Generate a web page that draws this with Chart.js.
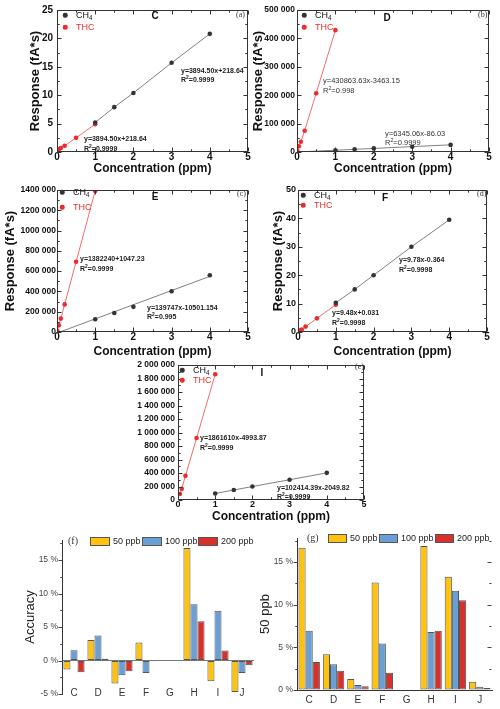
<!DOCTYPE html>
<html><head><meta charset="utf-8">
<script src="https://cdn.jsdelivr.net/npm/chart.js@4.4.0/dist/chart.umd.min.js"></script>
<style>
body{margin:0;background:#fff;}
#wrap{position:relative;width:500px;height:709px;overflow:hidden;font-family:'Liberation Sans',Arial,sans-serif;color:#111;}
canvas{position:absolute;left:0;top:0;}
.n{position:absolute;white-space:nowrap;line-height:1;transform:translateY(-50%);}
.c{transform:translate(-50%,-50%);}
.lg{font-size:9px;}
.pl{font-size:10px;font-weight:bold;}
.pn{font-family:'Liberation Serif',serif;font-size:8px;color:#333;}
.eq{font-size:7px;font-weight:bold;color:#222;}
.eqn{font-size:7.5px;color:#333;}
.red{color:#e8302c;}
.bl{font-size:9px;color:#222;}
.bp{font-family:'Liberation Serif',serif;font-size:10px;color:#333;}
sub{font-size:70%;vertical-align:-2px;line-height:0;}
sup{font-size:70%;vertical-align:3px;line-height:0;}
.dot{position:absolute;width:4.5px;height:4.5px;border-radius:50%;transform:translate(-50%,-50%);}
.box{position:absolute;border:1px solid #555;box-sizing:border-box;}
</style></head>
<body><div id="wrap">
<canvas id="cC" width="500" height="709"></canvas>
<canvas id="cD" width="500" height="709"></canvas>
<canvas id="cE" width="500" height="709"></canvas>
<canvas id="cF" width="500" height="709"></canvas>
<canvas id="cI" width="500" height="709"></canvas>
<canvas id="cf" width="500" height="709"></canvas>
<canvas id="cg" width="500" height="709"></canvas>
</div>
<script>
// ---------- DATA ----------
const concTicks = [0, 1, 2, 3, 4, 5];
// Panel C
const cCH4x = [1, 1.5, 2, 3, 4];
const cCH4y = [5.2, 7.9, 10.4, 15.7, 20.8];
const cTHCx = [0.01, 0.05, 0.1, 0.2, 0.5, 1];
const cTHCy = [0.3, 0.47, 0.7, 1.1, 2.5, 4.9];
// Panel D
const dCH4x = [1, 1.5, 2, 3, 4];
const dCH4y = [6300, 9400, 12600, 18500, 25000];
const dCH4fit = [6345.06, -86.03];
const dTHCx = [0.01, 0.05, 0.1, 0.2, 0.5, 1];
const dTHCy = [3000, 20000, 36000, 75000, 207000, 429000];
// Panel E
const eCH4x = [1, 1.5, 2, 3, 4];
const eCH4y = [125000, 188000, 248000, 402000, 560000];
const eCH4fit = [139747, -10501.154];
const eTHCx = [0.01, 0.05, 0.1, 0.2, 0.5, 1];
const eTHCy = [10000, 66000, 132000, 272000, 692000, 1390000];
// Panel F
const fCH4x = [1, 1.5, 2, 3, 4];
const fCH4y = [10.3, 15.0, 20.0, 30.0, 39.5];
const fTHCx = [0.01, 0.05, 0.1, 0.2, 0.5, 1];
const fTHCy = [0.2, 0.6, 0.9, 1.9, 4.8, 9.6];
// Panel I
const iCH4x = [1, 1.5, 2, 3, 4];
const iCH4y = [97000, 148000, 200000, 300000, 402000];
const iTHCx = [0.05, 0.1, 0.2, 0.5, 1];
const iTHCy = [88000, 165000, 358000, 918000, 1862000];
// Bar panels
const categories = ['C', 'D', 'E', 'F', 'G', 'H', 'I', 'J'];
const acc50  = [-1.35, 3.05, -3.45, 2.7, 0, 16.8, -3.1, -4.7];
const acc100 = [1.55, 3.75, -2.2, -1.85, 0, 8.4, 7.45, -1.85];
const acc200 = [-1.75, 0.25, -1.6, -0.1, 0, 5.85, 1.5, -0.7];
const rsd50  = [16.65, 4.2, 1.28, 12.6, 0, 16.85, 13.27, 0.97];
const rsd100 = [6.93, 3.03, 0.58, 5.45, 0, 6.8, 11.63, 0.39];
const rsd200 = [3.27, 2.26, 0.43, 2.02, 0, 6.93, 10.5, 0.23];
const seriesNames = ['50 ppb', '100 ppb', '200 ppb'];

// ---------- STYLE ----------
const FAM = "'Liberation Sans', Arial, sans-serif";
Chart.defaults.font.family = FAM;
Chart.defaults.color = '#111';
Chart.defaults.animation = false;
const GRAYPT = '#333', GRAYLN = '#808080', REDPT = '#ee2a2a', REDLN = '#f26b6b';
const YEL = '#FFC20E', BLU = '#6A9FD6', RED = '#D8302B';

const tkPlugin = {
  id: 'tk',
  afterDraw(chart, args, o) {
    if (!o || !o.on) return;
    const {ctx, chartArea: a} = chart;
    const xs = chart.scales.x, ys = chart.scales.y;
    ctx.save();
    ctx.strokeStyle = o.color || '#333'; ctx.lineWidth = 1;
    const seg = (x1, y1, x2, y2) => { ctx.beginPath(); ctx.moveTo(x1, y1); ctx.lineTo(x2, y2); ctx.stroke(); };
    const L = Math.round(a.left) + 0.5, R = Math.round(a.right) - 0.5, T = Math.round(a.top) + 0.5, B = Math.round(a.bottom) - 0.5;
    if (o.box) ctx.strokeRect(L, T, R - L, B - T);
    const run = (sc, spec, horiz) => {
      if (!spec) return;
      const n = Math.round((sc.max - sc.min) / spec.minor + 1e-9);
      for (let i = 0; i <= n; i++) {
        const v = sc.min + i * spec.minor;
        if (v > sc.max + 1e-9) break;
        const q = v / spec.major;
        const len = Math.abs(q - Math.round(q)) < 1e-6 ? o.len : o.len * 0.55;
        const p = Math.round(sc.getPixelForValue(v)) + 0.5;
        for (const s of spec.sides) {
          if (horiz) {
            if (s === 'bottom') seg(p, B, p, B - len);
            if (s === 'top') seg(p, T, p, T + len);
          } else {
            if (s === 'left') seg(L, p, L + len, p);
            if (s === 'leftOut') seg(L - len, p, L, p);
            if (s === 'right') seg(R, p, R - len, p);
          }
        }
      }
    };
    run(ys, o.y, false);
    run(xs, o.x, true);
    ctx.restore();
  }
};

const pts = (xs, ys) => xs.map((x, i) => ({x, y: ys[i]}));
const fitLine = (coef, x0, x1) => [x0, x1].map(x => ({x, y: coef[0] * x + coef[1]}));
const spaceK = v => v === 0 ? '0' : Math.floor(v / 1000) + ' 000';
const spaceAll = v => String(v).replace(/\B(?=(\d{3})+(?!\d))/g, ' ');

function scatterChart(id, p) {
  const yLh = 13 * 1.2, xLh = 12 * 1.2;
  const yW = p.yTitleX != null ? p.l - (p.yTitleX - yLh / 2) : 60;
  const xH = p.xTitleY + xLh / 2 - p.b;
  const datasets = [
    {data: pts(p.ch4x, p.ch4y), pointRadius: 2.3, pointBackgroundColor: GRAYPT, pointBorderWidth: 0, showLine: false},
    {data: pts(p.thcx, p.thcy), pointRadius: 2.3, pointBackgroundColor: REDPT, pointBorderWidth: 0, showLine: false},
    {data: p.ch4line || pts(p.ch4x, p.ch4y), pointRadius: 0, showLine: true, borderColor: GRAYLN, borderWidth: 1},
    {data: pts(p.thcx, p.thcy), pointRadius: 0, showLine: true, borderColor: REDLN, borderWidth: 1}
  ];
  new Chart(document.getElementById(id), {
    type: 'scatter',
    data: {datasets},
    plugins: [tkPlugin],
    options: {
      responsive: false, animation: false,
      layout: {padding: {left: p.l - yW, top: p.t, right: 500 - p.r, bottom: 709 - p.b - xH}},
      plugins: {legend: {display: false}, tooltip: {enabled: false},
        tk: {on: true, box: true, len: 4, color: '#333',
          y: {major: p.yStep, minor: p.yStep / 2, sides: ['left', 'right']},
          x: {major: 1, minor: 0.5, sides: ['bottom', 'top']}}},
      scales: {
        x: {type: 'linear', min: concTicks[0], max: concTicks[concTicks.length - 1],
          afterBuildTicks: s => { s.ticks = concTicks.map(v => ({value: v})); },
          ticks: {autoSkip: false, font: {size: p.xFont || 10, weight: 'bold'}, color: '#111', padding: -1},
          grid: {display: false, drawTicks: false}, border: {display: false},
          title: {display: true, text: 'Concentration (ppm)', font: {size: 12, weight: 'bold'}, color: '#111', padding: {top: 0, bottom: 0}},
          afterFit: s => { s.height = xH; }},
        y: {type: 'linear', min: 0, max: p.yMax,
          ticks: {autoSkip: false, stepSize: p.yStep, font: {size: p.yFont || 10, weight: 'bold'}, color: '#111', padding: p.yPad, callback: p.fmt || (v => v)},
          grid: {display: false, drawTicks: false}, border: {display: false},
          title: {display: p.yTitleX != null, text: 'Response (fA*s)', font: {size: 13, weight: 'bold'}, color: '#111', padding: {top: 0, bottom: 0}},
          afterFit: s => { s.width = yW; }}
      }
    }
  });
}

scatterChart('cC', {l: 57, t: 10, r: 248, b: 152, yMax: 25, yStep: 5, yTitleX: 35, xTitleY: 169, yPad: 4,
  ch4x: cCH4x, ch4y: cCH4y, thcx: cTHCx, thcy: cTHCy});
scatterChart('cD', {l: 297, t: 10, r: 489, b: 152, yMax: 500000, yStep: 100000, yTitleX: 258, xTitleY: 169, yPad: 2, yFont: 8.5, fmt: spaceK,
  ch4x: dCH4x, ch4y: dCH4y, thcx: dTHCx, thcy: dTHCy, ch4line: fitLine(dCH4fit, 0, 4)});
scatterChart('cE', {l: 57, t: 190, r: 248, b: 332, yMax: 1400000, yStep: 200000, yTitleX: 10, xTitleY: 352, yPad: 1, yFont: 8.5, fmt: spaceK,
  ch4x: eCH4x, ch4y: eCH4y, thcx: eTHCx, thcy: eTHCy, ch4line: fitLine(eCH4fit, 0.08, 4)});
scatterChart('cF', {l: 298, t: 190, r: 487, b: 332, yMax: 50, yStep: 10, yTitleX: 278, xTitleY: 352, yPad: 2, yFont: 9,
  ch4x: fCH4x, ch4y: fCH4y, thcx: fTHCx, thcy: fTHCy});
scatterChart('cI', {l: 178, t: 365, r: 364, b: 500, yMax: 2000000, yStep: 200000, yTitleX: null, xTitleY: 517, yPad: 3, yFont: 8.5, xFont: 9, fmt: spaceAll,
  ch4x: iCH4x, ch4y: iCH4y, thcx: iTHCx, thcy: iTHCy});

function barChart(id, p) {
  const yLh = 13 * 1.2;
  const yW = p.l - (p.yTitleX - yLh / 2);
  const xH = p.xH;
  const mk = (i, data, col) => ({label: seriesNames[i], data, backgroundColor: col, borderColor: '#555', borderWidth: 1, borderSkipped: false,
    categoryPercentage: 0.88, barPercentage: 1});
  new Chart(document.getElementById(id), {
    type: 'bar',
    data: {labels: categories, datasets: [mk(0, p.s1, YEL), mk(1, p.s2, BLU), mk(2, p.s3, RED)]},
    plugins: [tkPlugin],
    options: {
      responsive: false, animation: false,
      layout: {padding: {left: p.l - yW, top: p.t, right: 500 - p.r, bottom: 709 - p.b - xH}},
      plugins: {legend: {display: false}, tooltip: {enabled: false},
        tk: {on: true, box: false, len: 4, color: '#444', y: {major: 5, minor: 2.5, sides: p.ySides}}},
      scales: {
        x: {grid: {display: false, drawTicks: false}, border: {display: p.xBorder, color: '#333'},
          ticks: {autoSkip: false, padding: p.xPad, mirror: p.xMirror, font: {size: 10}, color: '#333'},
          afterFit: s => { s.height = xH; }},
        y: {min: p.yMin, max: p.yMax,
          ticks: {autoSkip: false, stepSize: 5, includeBounds: false, callback: v => v + ' %', font: {size: 8.5}, color: '#444', padding: 4},
          grid: {drawTicks: false, lineWidth: 1, color: c => (c.tick && c.tick.value === 0 && p.zeroLine) ? '#777' : 'rgba(0,0,0,0)'},
          border: {display: true, color: '#333'},
          title: {display: true, text: p.yTitle, font: {size: 13}, color: '#222', padding: {top: 0, bottom: 0}},
          afterFit: s => { s.width = yW; }}
      }
    }
  });
}

barChart('cf', {l: 62, t: 540, r: 254, b: 694, yMin: -5, yMax: 18, yTitleX: 30, yTitle: 'Accuracy', xH: 10, xPad: -5, xMirror: true, xBorder: false,
  zeroLine: true, ySides: ['leftOut'], s1: acc50, s2: acc100, s3: acc200});
barChart('cg', {l: 297, t: 538, r: 492, b: 690, yMin: 0, yMax: 17.8, yTitleX: 265, yTitle: '50 ppb', xH: 19, xPad: 4, xMirror: false, xBorder: true,
  zeroLine: false, ySides: ['leftOut', 'right'], s1: rsd50, s2: rsd100, s3: rsd200});

// ---------- ANNOTATIONS (real text) ----------
const wrap = document.getElementById('wrap');
function note(html, x, y, cls) {
  const d = document.createElement('div');
  d.className = 'n ' + cls; d.innerHTML = html;
  d.style.left = x + 'px'; d.style.top = y + 'px';
  wrap.appendChild(d);
}
function dot(x, y, col) {
  const d = document.createElement('div');
  d.className = 'dot'; d.style.left = x + 'px'; d.style.top = y + 'px'; d.style.background = col;
  wrap.appendChild(d);
}
function box(x, y, w, h, col) {
  const d = document.createElement('div');
  d.className = 'box'; Object.assign(d.style, {left: x + 'px', top: y + 'px', width: w + 'px', height: h + 'px', background: col});
  wrap.appendChild(d);
}
function legendCH(x, y1, y2) {
  dot(x, y1, GRAYPT); note('CH<sub>4</sub>', x + 11, y1, 'lg');
  dot(x, y2, REDPT); note('THC', x + 11, y2, 'lg red');
}
// C (a)
legendCH(65, 15, 27);
note('C', 155, 16, 'pl c'); note('(a)', 236, 15, 'pn');
note('y=3894.50x+218.64', 181, 70, 'eq'); note('R<sup>2</sup>=0.9999', 181, 79, 'eq');
note('y=3894.50x+218.64', 84, 138, 'eq'); note('R<sup>2</sup>=0.9999', 84, 148, 'eq');
// D (b)
legendCH(304, 15, 27);
note('D', 387, 18, 'pl c'); note('(b)', 478, 15, 'pn');
note('y=430863.63x-3463.15', 323, 81, 'eqn'); note('R<sup>2</sup>=0.998', 323, 91, 'eqn');
note('y=6345.06x-86.03', 385, 134, 'eqn'); note('R<sup>2</sup>=0.9999', 385, 143, 'eqn');
// E (c)
legendCH(62, 192, 207);
note('E', 155, 197, 'pl c'); note('(c)', 237, 194, 'pn');
note('y=1382240+1047.23', 80, 258, 'eq'); note('R<sup>2</sup>=0.9999', 80, 268, 'eq');
note('y=139747x-10501.154', 147, 307, 'eq'); note('R<sup>2</sup>=0.995', 147, 316, 'eq');
// F (d)
legendCH(303, 195, 205);
note('F', 385, 198, 'pl c'); note('(d)', 477, 194, 'pn');
note('y=9.78x-0.364', 399, 259, 'eq'); note('R<sup>2</sup>=0.9998', 399, 269, 'eq');
note('y=9.48x+0.031', 332, 312, 'eq'); note('R<sup>2</sup>=0.9998', 332, 322, 'eq');
// I (e)
legendCH(182, 370, 380);
note('I', 262, 373, 'pl c'); note('(e)', 355, 367, 'pn');
note('y=1861610x-4993.87', 200, 437, 'eq'); note('R<sup>2</sup>=0.9999', 200, 447, 'eq');
note('y=102414.39x-2049.82', 277, 487, 'eq'); note('R<sup>2</sup>=0.9999', 277, 496, 'eq');
// bar legends
note('(f)', 68, 541, 'bp');
box(90, 537, 20, 9, YEL); note(seriesNames[0], 113, 541, 'bl');
box(142, 537, 20, 9, BLU); note(seriesNames[1], 165, 541, 'bl');
box(198, 537, 20, 9, RED); note(seriesNames[2], 221, 541, 'bl');
note('(g)', 307, 538, 'bp');
box(328, 534, 19, 9, YEL); note(seriesNames[0], 350, 538, 'bl');
box(379, 534, 19, 9, BLU); note(seriesNames[1], 401, 538, 'bl');
box(435, 534, 19, 9, RED); note(seriesNames[2], 457, 538, 'bl');
</script>
</body></html>
